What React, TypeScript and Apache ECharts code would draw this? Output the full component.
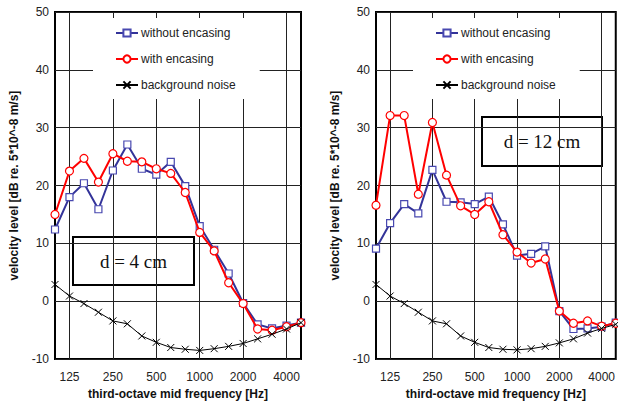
import React, { useEffect, useRef } from "react";
import * as echarts from "echarts";

const frequencies = ["100", "125", "160", "200", "250", "315", "400", "500", "630", "800", "1000", "1250", "1600", "2000", "2500", "3150", "4000", "5000"];
const shownTickIdx = [1, 4, 7, 10, 13, 16];

const left_without = [12.4, 18.0, 20.4, 15.9, 22.6, 27.1, 22.9, 21.9, 24.1, 19.9, 13.0, 8.9, 4.8, -0.3, -4.0, -4.7, -4.2, -3.7];
const left_with = [15.0, 22.5, 24.7, 20.6, 25.5, 24.2, 24.1, 22.9, 22.1, 18.8, 11.9, 8.7, 3.2, -0.4, -4.8, -5.0, -4.4, -3.7];
const left_noise = [2.9, 0.9, -0.4, -1.9, -3.4, -3.9, -6.0, -7.1, -8.0, -8.3, -8.5, -8.2, -7.8, -7.3, -6.5, -5.7, -4.8, -3.7];

const right_without = [9.1, 13.5, 16.8, 15.2, 22.7, 17.2, 17.1, 16.8, 18.1, 13.3, 7.9, 8.2, 9.5, -1.7, -4.8, -4.7, -4.4, -3.7];
const right_with = [16.6, 32.1, 32.1, 18.5, 30.9, 21.8, 16.5, 15.0, 17.2, 11.5, 8.5, 6.6, 7.3, -1.7, -3.8, -3.4, -4.3, -3.8];
const right_noise = [2.9, 0.9, -0.4, -1.9, -3.4, -3.9, -6.0, -7.1, -8.0, -8.3, -8.4, -8.2, -7.8, -7.2, -6.5, -5.5, -4.7, -4.0];

const yTicks = { min: -10, max: 50, interval: 10 };
const seriesNames = ["without encasing", "with encasing", "background noise"];
const panelLabels = ["d = 4 cm", "d = 12 cm"];

const FONT = "Liberation Sans, Arial, Helvetica, sans-serif";
const CROSS = "path://M0,0L10,10M10,0L0,10";

function makeSeries(idx: number, without: number[], withE: number[], noise: number[]) {
  return [
    {
      name: seriesNames[0],
      type: "line",
      xAxisIndex: idx,
      yAxisIndex: idx,
      data: without,
      symbol: "rect",
      symbolSize: 7,
      showAllSymbol: true,
      lineStyle: { color: "#333399", width: 2 },
      itemStyle: { color: "#ffffff", borderColor: "#4848b0", borderWidth: 1.2 },
      z: 2,
    },
    {
      name: seriesNames[1],
      type: "line",
      xAxisIndex: idx,
      yAxisIndex: idx,
      data: withE,
      symbol: "circle",
      symbolSize: 8,
      showAllSymbol: true,
      lineStyle: { color: "#ff0000", width: 2 },
      itemStyle: { color: "#ffffff", borderColor: "#ff0000", borderWidth: 1.2 },
      z: 3,
    },
    {
      name: seriesNames[2],
      type: "line",
      xAxisIndex: idx,
      yAxisIndex: idx,
      data: noise,
      symbol: CROSS,
      symbolSize: 7,
      showAllSymbol: true,
      lineStyle: { color: "#000000", width: 1 },
      itemStyle: { color: "#000000", borderColor: "#000000", borderWidth: 1 },
      z: 4,
    },
  ];
}

function makeXAxis(idx: number) {
  return {
    type: "category",
    gridIndex: idx,
    data: frequencies,
    boundaryGap: false,
    name: "third-octave mid frequency [Hz]",
    nameLocation: "middle",
    nameGap: 28,
    nameTextStyle: { fontFamily: FONT, fontSize: 12, fontWeight: "bold", color: "#111" },
    axisLine: { show: false },
    axisTick: { show: false },
    axisLabel: {
      interval: (i: number) => shownTickIdx.includes(i),
      fontFamily: FONT,
      fontSize: 12,
      color: "#222",
      margin: 12,
    },
    splitLine: {
      show: true,
      interval: (i: number) => shownTickIdx.includes(i),
      lineStyle: { color: "#222", width: 1 },
    },
  };
}

function makeYAxis(idx: number) {
  return {
    type: "value",
    gridIndex: idx,
    min: yTicks.min,
    max: yTicks.max,
    interval: yTicks.interval,
    name: "velocity level [dB re. 5*10^-8 m/s]",
    nameLocation: "middle",
    nameRotate: 90,
    nameGap: 35,
    nameTextStyle: { fontFamily: FONT, fontSize: 12, fontWeight: "bold", color: "#111" },
    axisLine: { show: false },
    axisTick: { show: false },
    axisLabel: { fontFamily: FONT, fontSize: 12, color: "#222", margin: 6 },
    splitLine: { show: true, lineStyle: { color: "#222", width: 1 } },
  };
}

function makeLegend(left: number) {
  return {
    orient: "vertical",
    left,
    top: 18,
    data: seriesNames,
    backgroundColor: "#ffffff",
    padding: [9, 24, 8, 22],
    itemWidth: 22,
    itemHeight: 9,
    itemGap: 14,
    selectedMode: false,
    textStyle: { fontFamily: FONT, fontSize: 12, color: "#222", padding: [0, 0, 0, -2] },
    z: 5,
  };
}

function makeBox(x: number, y: number, w: number, h: number, label: string) {
  return {
    type: "group",
    z: 10,
    children: [
      {
        type: "rect",
        shape: { x, y, width: w, height: h },
        style: { fill: "#ffffff", stroke: "#000000", lineWidth: 2 },
      },
      {
        type: "text",
        x: x + w / 2,
        y: y + h / 2,
        style: {
          text: label,
          fontFamily: "Liberation Serif, Times New Roman, serif",
          fontSize: 19,
          fill: "#111",
          align: "center",
          verticalAlign: "middle",
        },
      },
    ],
  };
}

export default function App() {
  const ref = useRef<HTMLDivElement>(null);
  useEffect(() => {
    if (!ref.current) return;
    const chart = echarts.init(ref.current, undefined, { renderer: "svg" });
    chart.setOption({
      animation: false,
      backgroundColor: "#ffffff",
      grid: [
        { left: 55, top: 12, width: 246, height: 349, show: true, borderColor: "#000", borderWidth: 2, backgroundColor: "transparent" },
        { left: 376, top: 12, width: 245, height: 349, show: true, borderColor: "#000", borderWidth: 2, backgroundColor: "transparent" },
      ],
      xAxis: [makeXAxis(0), makeXAxis(1)],
      yAxis: [makeYAxis(0), makeYAxis(1)],
      legend: [makeLegend(93), makeLegend(413)],
      series: [
        ...makeSeries(0, left_without, left_with, left_noise),
        ...makeSeries(1, right_without, right_with, right_noise),
      ],
      graphic: [makeBox(73, 237, 121, 48, panelLabels[0]), makeBox(482, 117, 120, 49, panelLabels[1])],
    });
    return () => chart.dispose();
  }, []);
  return <div ref={ref} style={{ position: "fixed", left: 0, top: 0, width: 618, height: 405 }} />;
}
